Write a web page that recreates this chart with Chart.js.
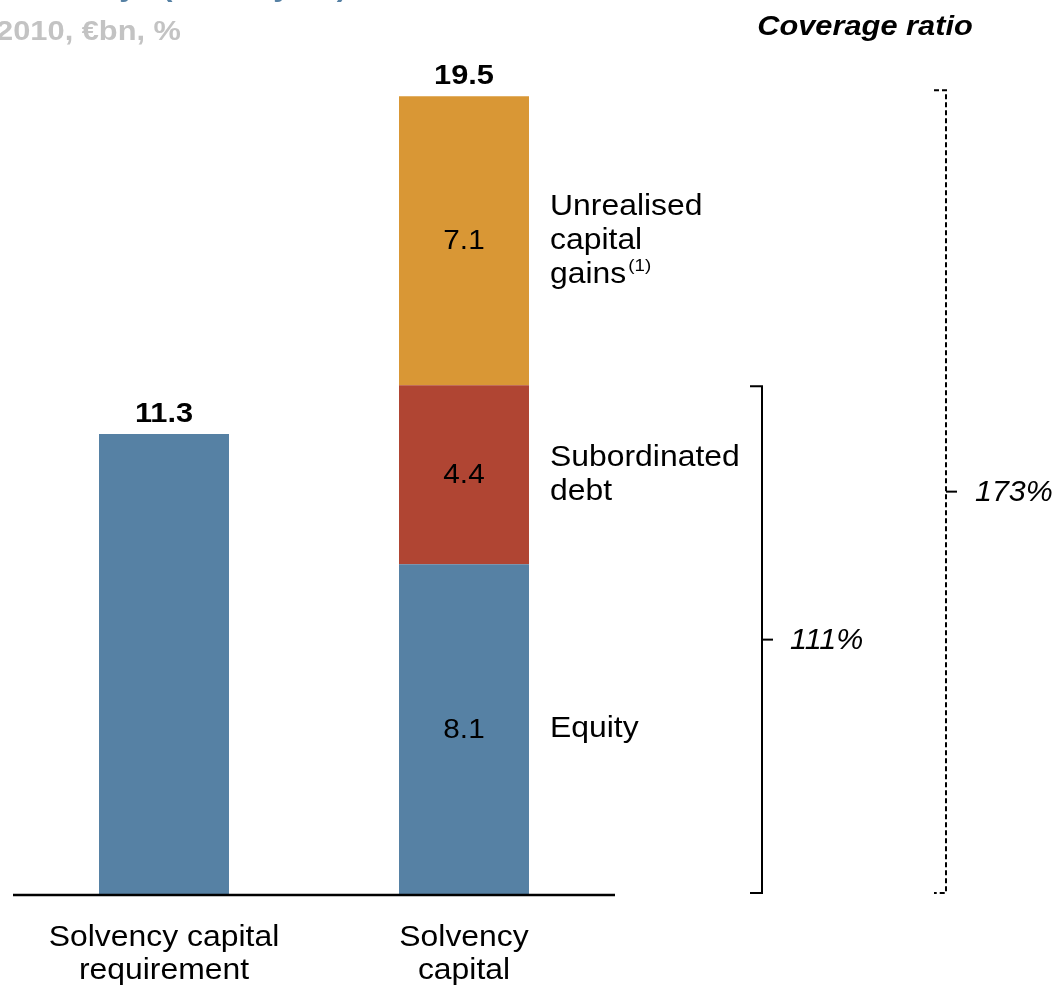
<!DOCTYPE html>
<html lang="en">
<head>
<meta charset="UTF-8">
<title>Solvency capital coverage</title>
<script src="https://cdn.jsdelivr.net/npm/chart.js"></script>
<style>
  html, body { margin: 0; padding: 0; background: #fff; }
  #wrap { width: 1064px; height: 985px; position: relative; }
</style>
</head>
<body>
<div id="wrap"><canvas id="chart" width="1064" height="985"></canvas></div>
<script>
// categories and values (€bn)
const categories = [["Solvency capital", "requirement"], ["Solvency", "capital"]];
const equity = [11.3, 8.1];
const subordinatedDebt = [null, 4.4];
const unrealisedGains = [null, 7.1];
// reported totals (segments are rounded, so the stack sum differs slightly)
const totals = [11.3, 19.5];
const segmentNames = [["Equity"], ["Subordinated", "debt"], ["Unrealised", "capital", "gains"]];

const title = "Solvency I (end of year)";
const subtitle = "31 December 2010, €bn, %";
const coverageTitle = "Coverage ratio";

const BLUE = "#5681a4";
const RED = "#b04533";
const ORANGE = "#d99735";
const FONT = "'Liberation Sans', Arial, sans-serif";
const SX = 1.1;

// text is slightly wide in this style, draw it stretched horizontally
function txt(ctx, s, x, y, font, color, align, sx) {
  ctx.save();
  ctx.font = font;
  ctx.fillStyle = color;
  ctx.textAlign = align || "left";
  ctx.textBaseline = "middle";
  const w = ctx.measureText(s).width * (sx || SX);
  ctx.translate(x, y);
  ctx.scale(sx || SX, 1);
  ctx.fillText(s, 0, 0);
  ctx.restore();
  return w;
}

function bracket(ctx, x, yTop, yBot, dashed, label, labelX) {
  ctx.save();
  ctx.strokeStyle = "#000";
  ctx.lineWidth = 2;
  if (dashed) ctx.setLineDash([5, 3]);
  ctx.beginPath();
  ctx.moveTo(x - 12, yTop);
  ctx.lineTo(x, yTop);
  ctx.lineTo(x, yBot);
  ctx.lineTo(x - 12, yBot);
  ctx.stroke();
  const mid = (yTop + yBot) / 2;
  ctx.setLineDash([]);
  ctx.beginPath();
  ctx.moveTo(x, mid);
  ctx.lineTo(x + 11, mid);
  ctx.stroke();
  ctx.restore();
  txt(ctx, label, labelX, mid + 1, "italic 29px " + FONT, "#000", "left", 1.05);
}

const annotations = {
  id: "annotations",
  afterDatasetsDraw(chart) {
    const ctx = chart.ctx;
    const x = chart.scales.x, y = chart.scales.y;
    const area = chart.chartArea;

    // baseline
    ctx.save();
    ctx.strokeStyle = "#000";
    ctx.lineWidth = 2.5;
    ctx.beginPath();
    ctx.moveTo(area.left - 1, area.bottom + 1);
    ctx.lineTo(area.right + 1, area.bottom + 1);
    ctx.stroke();
    ctx.restore();

    // category labels
    categories.forEach((lines, i) => {
      const cx = x.getPixelForValue(i);
      lines.forEach((l, j) => txt(ctx, l, cx, 938 + j * 33, "29px " + FONT, "#000", "center"));
    });

    // totals above bars, values inside segments
    const sets = [equity, subordinatedDebt, unrealisedGains];
    categories.forEach((_, i) => {
      const cx = x.getPixelForValue(i);
      let base = 0;
      sets.forEach(arr => {
        const v = arr[i];
        if (v == null) return;
        if (i === 1) {
          const ym = (y.getPixelForValue(base) + y.getPixelForValue(base + v)) / 2;
          txt(ctx, v.toFixed(1), cx, ym + 1, "27px " + FONT, "#000", "center");
        }
        base += v;
      });
      txt(ctx, totals[i].toFixed(1), cx, y.getPixelForValue(base) - 20, "bold 28px " + FONT, "#000", "center");
    });

    // segment names beside the stacked bar
    let base = 0;
    sets.forEach((arr, k) => {
      const v = arr[1];
      const ym = (y.getPixelForValue(base) + y.getPixelForValue(base + v)) / 2;
      const lines = segmentNames[k];
      lines.forEach((l, j) => {
        const ly = ym + (j - (lines.length - 1) / 2) * 34;
        const w = txt(ctx, l, 550, ly, "29px " + FONT, "#000", "left");
        if (k === 2 && j === lines.length - 1) {
          txt(ctx, "(1)", 550 + w + 2, ly - 8, "17px " + FONT, "#000", "left");
        }
      });
      base += v;
    });

    // coverage ratio brackets
    const scr = totals[0];
    const core = equity[1] + subordinatedDebt[1];
    const total = totals[1];
    bracket(ctx, 762, y.getPixelForValue(core) + 1, area.bottom - 1, false,
      Math.round(core / scr * 100) + "%", 790);
    bracket(ctx, 946, y.getPixelForValue(equity[1] + subordinatedDebt[1] + unrealisedGains[1]) - 6,
      area.bottom - 1, true, Math.round(total / scr * 100) + "%", 975);

    // headings
    txt(ctx, title, 347, -12, "bold 28px " + FONT, BLUE, "right");
    txt(ctx, subtitle, 181, 32, "bold 28px " + FONT, "#c3c3c3", "right");
    txt(ctx, coverageTitle, 865, 27, "bold italic 28px " + FONT, "#000", "center");
  }
};

new Chart(document.getElementById("chart"), {
  type: "bar",
  data: {
    labels: categories,
    datasets: [
      { label: "Equity", data: equity, backgroundColor: BLUE },
      { label: "Subordinated debt", data: subordinatedDebt, backgroundColor: RED },
      { label: "Unrealised capital gains", data: unrealisedGains, backgroundColor: ORANGE }
    ]
  },
  options: {
    responsive: false,
    animation: false,
    layout: { padding: { top: 80, left: 14, right: 450, bottom: 91 } },
    datasets: { bar: { categoryPercentage: 1, barPercentage: 0.4333 } },
    plugins: { legend: { display: false }, tooltip: { enabled: false } },
    scales: {
      x: { stacked: true, display: false },
      y: { stacked: true, display: false, min: 0, max: 20 }
    }
  },
  plugins: [annotations]
});
</script>
</body>
</html>
